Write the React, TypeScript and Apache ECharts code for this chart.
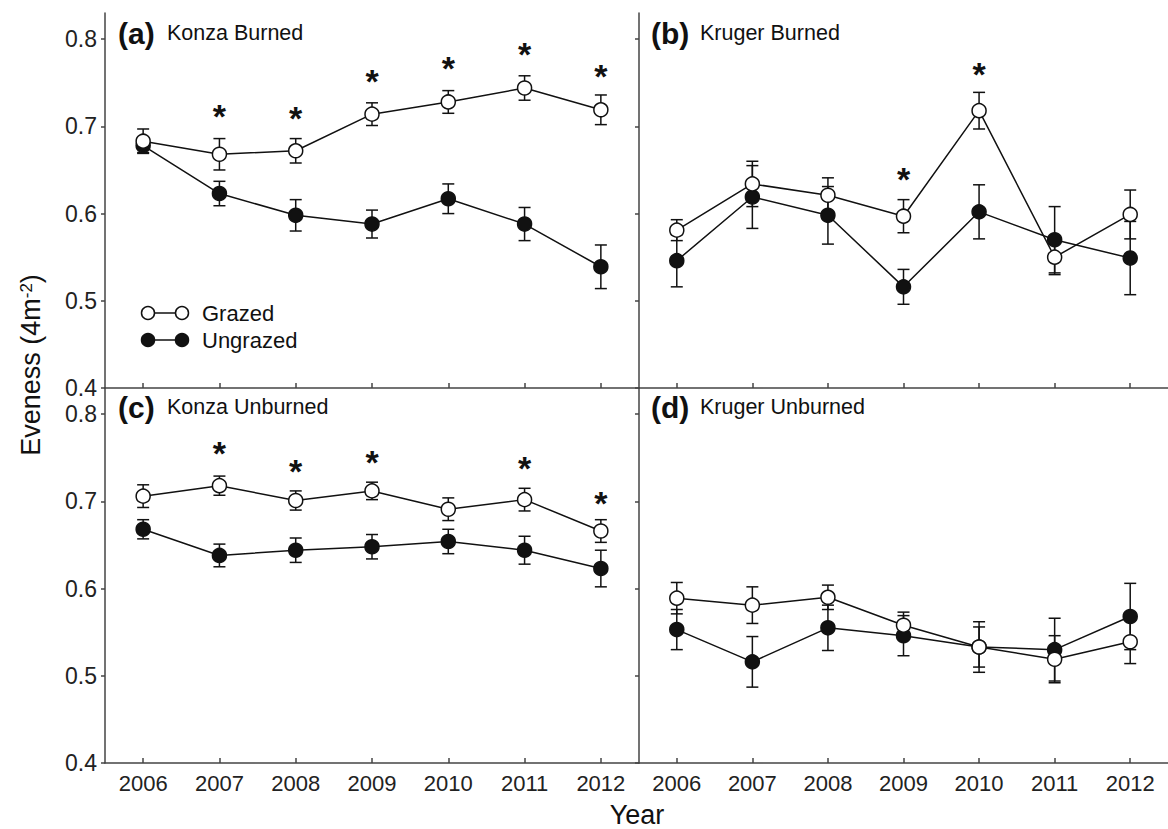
import React, { useEffect, useRef } from "react";
import * as echarts from "echarts";

const years = ["2006", "2007", "2008", "2009", "2010", "2011", "2012"];
const yTicks = [0.4, 0.5, 0.6, 0.7, 0.8];

// (a) Konza Burned
const grazedA = [0.683, 0.668, 0.672, 0.714, 0.728, 0.744, 0.719];
const grazedAErr = [0.014, 0.018, 0.014, 0.013, 0.013, 0.014, 0.017];
const ungrazedA = [0.678, 0.623, 0.598, 0.588, 0.617, 0.588, 0.539];
const ungrazedAErr = [0.008, 0.014, 0.018, 0.016, 0.017, 0.019, 0.025];
const starsA = [null, 0.719, 0.716, 0.759, 0.774, 0.79, 0.765];

// (b) Kruger Burned
const grazedB = [0.581, 0.634, 0.621, 0.597, 0.718, 0.55, 0.599];
const grazedBErr = [0.012, 0.026, 0.02, 0.019, 0.021, 0.02, 0.028];
const ungrazedB = [0.546, 0.619, 0.598, 0.516, 0.602, 0.57, 0.549];
const ungrazedBErr = [0.03, 0.036, 0.033, 0.02, 0.031, 0.038, 0.042];
const starsB = [null, null, null, 0.646, 0.767, null, null];

// (c) Konza Unburned
const grazedC = [0.706, 0.718, 0.701, 0.712, 0.691, 0.702, 0.666];
const grazedCErr = [0.013, 0.011, 0.011, 0.01, 0.013, 0.013, 0.013];
const ungrazedC = [0.668, 0.638, 0.644, 0.648, 0.654, 0.644, 0.623];
const ungrazedCErr = [0.011, 0.013, 0.014, 0.014, 0.014, 0.016, 0.021];
const starsC = [null, 0.762, 0.742, 0.752, null, 0.745, 0.705];

// (d) Kruger Unburned
const grazedD = [0.589, 0.581, 0.59, 0.558, 0.533, 0.519, 0.539];
const grazedDErr = [0.018, 0.021, 0.014, 0.015, 0.029, 0.027, 0.025];
const ungrazedD = [0.553, 0.516, 0.555, 0.546, 0.533, 0.53, 0.568];
const ungrazedDErr = [0.023, 0.029, 0.026, 0.023, 0.023, 0.036, 0.038];
const starsD: (number | null)[] = [null, null, null, null, null, null, null];

const panelTags = ["(a)", "(b)", "(c)", "(d)"];
const panelNames = ["Konza Burned", "Kruger Burned", "Konza Unburned", "Kruger Unburned"];

const FONT = "'Liberation Sans', Arial, Helvetica, sans-serif";
const INK = "#111";
const AXIS = "#444";

const panels = [
  { g: grazedA, ge: grazedAErr, u: ungrazedA, ue: ungrazedAErr, s: starsA },
  { g: grazedB, ge: grazedBErr, u: ungrazedB, ue: ungrazedBErr, s: starsB },
  { g: grazedC, ge: grazedCErr, u: ungrazedC, ue: ungrazedCErr, s: starsC },
  { g: grazedD, ge: grazedDErr, u: ungrazedD, ue: ungrazedDErr, s: starsD },
];

const grids = [
  { left: 105, top: 13, width: 534, height: 375 },
  { left: 639, top: 13, width: 536, height: 375 },
  { left: 105, top: 388, width: 534, height: 375 },
  { left: 639, top: 388, width: 536, height: 375 },
];

function errorBarRender(params: any, api: any) {
  const x = api.value(0);
  const lo = api.value(1);
  const hi = api.value(2);
  const p1 = api.coord([x, hi]);
  const p2 = api.coord([x, lo]);
  const w = 6;
  const st = { stroke: INK, lineWidth: 1.5 };
  return {
    type: "group",
    children: [
      { type: "line", shape: { x1: p1[0], y1: p1[1], x2: p2[0], y2: p2[1] }, style: st },
      { type: "line", shape: { x1: p1[0] - w, y1: p1[1], x2: p1[0] + w, y2: p1[1] }, style: st },
      { type: "line", shape: { x1: p2[0] - w, y1: p2[1], x2: p2[0] + w, y2: p2[1] }, style: st },
    ],
  };
}

function starRender(params: any, api: any) {
  const p = api.coord([api.value(0), api.value(1)]);
  return {
    type: "text",
    x: p[0],
    y: p[1] + 6,
    style: {
      text: "*",
      fontSize: 34,
      fontWeight: "bold",
      fontFamily: FONT,
      fill: INK,
      align: "center",
      verticalAlign: "middle",
      textAlign: "center",
      textVerticalAlign: "middle",
    },
  };
}

function buildOption() {
  const xAxis: any[] = [];
  const yAxis: any[] = [];
  const series: any[] = [];
  panels.forEach((p, i) => {
    const bottomRow = i >= 2;
    const leftCol = i % 2 === 0;
    xAxis.push({
      type: "category",
      gridIndex: i,
      data: years,
      boundaryGap: true,
      axisLine: { show: true, lineStyle: { color: AXIS, width: 1.5 } },
      axisTick: { show: true, inside: true, length: 5, alignWithLabel: true, lineStyle: { color: AXIS, width: 1.5 } },
      axisLabel: { show: bottomRow, fontSize: 22, color: "#222", fontFamily: FONT, margin: 9 },
      splitLine: { show: false },
    });
    yAxis.push({
      type: "value",
      gridIndex: i,
      min: 0.4,
      max: 0.83,
      axisLine: { show: true, lineStyle: { color: AXIS, width: 1.5 } },
      axisTick: { show: true, inside: false, length: 4, customValues: yTicks, lineStyle: { color: AXIS, width: 1.5 } },
      axisLabel: {
        show: leftCol,
        customValues: yTicks,
        fontSize: 23,
        color: "#222",
        fontFamily: FONT,
        margin: 8,
        formatter: (v: number) => v.toFixed(1),
      },
      splitLine: { show: false },
    });
    series.push({
      type: "custom",
      xAxisIndex: i,
      yAxisIndex: i,
      z: 1,
      renderItem: errorBarRender,
      encode: { x: 0, y: [1, 2] },
      data: p.u.map((v, k) => [k, v - p.ue[k], v + p.ue[k]]),
    });
    series.push({
      type: "custom",
      xAxisIndex: i,
      yAxisIndex: i,
      z: 1,
      renderItem: errorBarRender,
      encode: { x: 0, y: [1, 2] },
      data: p.g.map((v, k) => [k, v - p.ge[k], v + p.ge[k]]),
    });
    series.push({
      type: "line",
      name: "Ungrazed",
      xAxisIndex: i,
      yAxisIndex: i,
      z: 2,
      data: p.u,
      symbol: "circle",
      symbolSize: 14,
      showAllSymbol: true,
      lineStyle: { color: INK, width: 1.5 },
      itemStyle: { color: INK, borderColor: INK, borderWidth: 1.5 },
    });
    series.push({
      type: "line",
      name: "Grazed",
      xAxisIndex: i,
      yAxisIndex: i,
      z: 3,
      data: p.g,
      symbol: "circle",
      symbolSize: 14,
      showAllSymbol: true,
      lineStyle: { color: INK, width: 1.5 },
      itemStyle: { color: "#fff", borderColor: INK, borderWidth: 1.5 },
    });
    const starData = p.s
      .map((v, k) => (v == null ? null : [k, v]))
      .filter((d) => d !== null);
    if (starData.length) {
      series.push({
        type: "custom",
        xAxisIndex: i,
        yAxisIndex: i,
        z: 4,
        renderItem: starRender,
        encode: { x: 0, y: 1 },
        data: starData,
      });
    }
  });

  const graphic: any[] = [];
  const titlePos = [
    { x: 118, y: 33 },
    { x: 651, y: 33 },
    { x: 118, y: 407 },
    { x: 651, y: 407 },
  ];
  titlePos.forEach((t, i) => {
    graphic.push({
      type: "text",
      x: t.x,
      y: t.y,
      style: {
        text: panelTags[i],
        font: `bold 30px ${FONT}`,
        fill: INK,
        textAlign: "left",
        textVerticalAlign: "middle",
      },
    });
    graphic.push({
      type: "text",
      x: t.x + 49,
      y: t.y,
      style: {
        text: panelNames[i],
        font: `21.5px ${FONT}`,
        fill: INK,
        textAlign: "left",
        textVerticalAlign: "middle",
      },
    });
  });

  // legend
  const legendRows = [
    { y: 313, fill: "#fff", label: "Grazed" },
    { y: 340, fill: INK, label: "Ungrazed" },
  ];
  legendRows.forEach((r) => {
    graphic.push({
      type: "line",
      shape: { x1: 148, y1: r.y, x2: 182, y2: r.y },
      style: { stroke: INK, lineWidth: 1.5 },
    });
    graphic.push({
      type: "circle",
      shape: { cx: 148, cy: r.y, r: 6.5 },
      style: { fill: r.fill, stroke: INK, lineWidth: 1.5 },
    });
    graphic.push({
      type: "circle",
      shape: { cx: 182, cy: r.y, r: 6.5 },
      style: { fill: r.fill, stroke: INK, lineWidth: 1.5 },
    });
    graphic.push({
      type: "text",
      x: 202,
      y: r.y,
      style: {
        text: r.label,
        font: `22px ${FONT}`,
        fill: INK,
        textAlign: "left",
        textVerticalAlign: "middle",
      },
    });
  });

  // axis names
  graphic.push({
    type: "text",
    x: 637,
    y: 815,
    style: {
      text: "Year",
      font: `27px ${FONT}`,
      fill: INK,
      textAlign: "center",
      textVerticalAlign: "middle",
    },
  });
  graphic.push({
    type: "text",
    x: 31,
    y: 365,
    rotation: Math.PI / 2,
    style: {
      text: "Eveness (4m{s|-2})",
      font: `27px ${FONT}`,
      fill: INK,
      textAlign: "center",
      textVerticalAlign: "middle",
      rich: {
        s: { fontSize: 17, fontFamily: FONT, verticalAlign: "top", fill: INK },
      },
    },
  });

  return {
    animation: false,
    backgroundColor: "#fff",
    grid: grids,
    xAxis,
    yAxis,
    series,
    graphic,
  };
}

export default function App() {
  const ref = useRef<HTMLDivElement>(null);
  useEffect(() => {
    if (!ref.current) return;
    const chart = echarts.init(ref.current, null, { renderer: "svg" });
    chart.setOption(buildOption() as any);
    return () => chart.dispose();
  }, []);
  return (
    <div
      ref={ref}
      style={{ position: "fixed", left: 0, top: 0, width: 1168, height: 829, background: "#fff" }}
    />
  );
}
